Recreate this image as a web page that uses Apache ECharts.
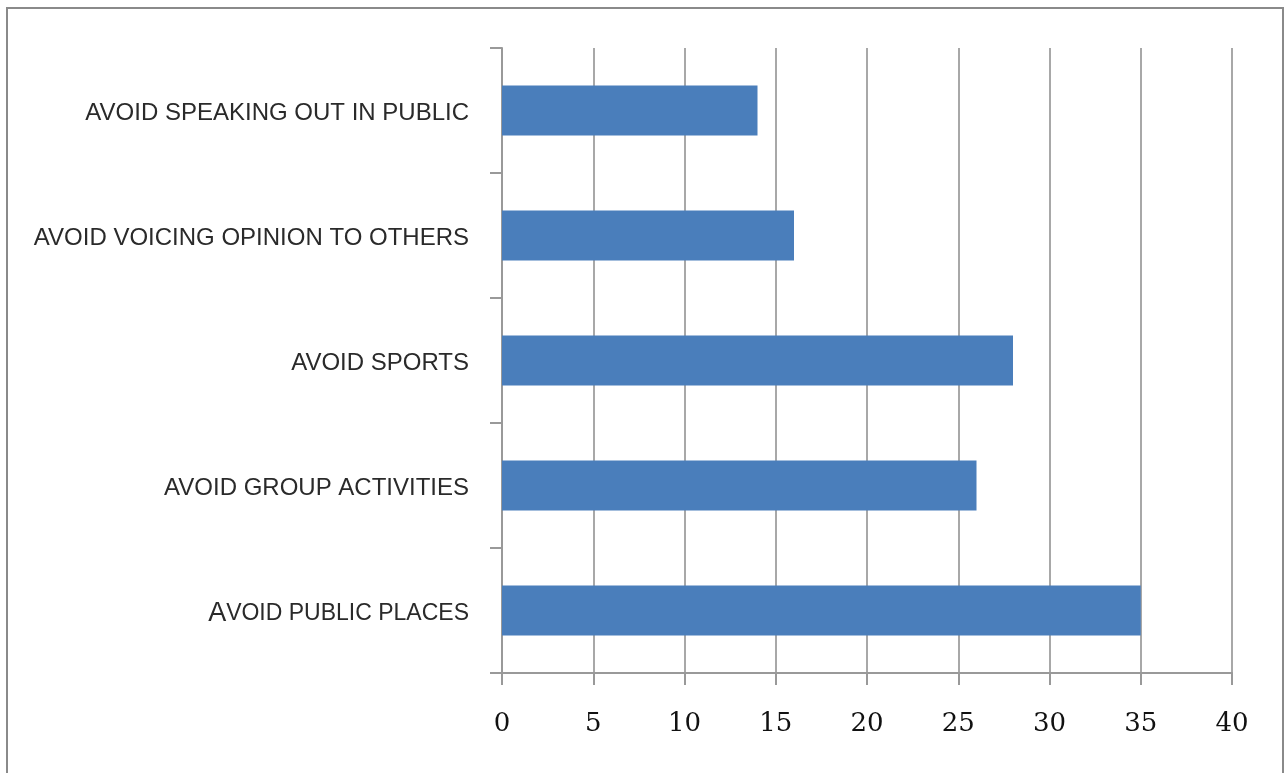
<!DOCTYPE html>
<html>
<head>
<meta charset="utf-8">
<script src="https://cdn.jsdelivr.net/npm/echarts@6/dist/echarts.min.js"></script>
<style>
  html, body { margin: 0; padding: 0; background: #fff; }
  #main { width: 1285px; height: 773px; }
</style>
</head>
<body>
<div id="main"></div>
<script>
// categories bottom -> top
var categories = ['AVOID PUBLIC PLACES', 'AVOID GROUP ACTIVITIES', 'AVOID SPORTS', 'AVOID VOICING OPINION TO OTHERS', 'AVOID SPEAKING OUT IN PUBLIC'];
var values = [35, 26, 28, 16, 14];
var xTicks = [0, 5, 10, 15, 20, 25, 30, 35, 40];

var chart = echarts.init(document.getElementById('main'));
var option = {
    backgroundColor: '#fff',
    animation: false,
    graphic: [
        {
            type: 'rect',
            shape: { x: 7, y: 8, width: 1276, height: 770 },
            style: { fill: 'none', stroke: '#8a8a8a', lineWidth: 2 },
            silent: true
        }
    ],
    grid: {
        left: 502,
        right: 53,
        top: 48,
        bottom: 100
    },
    xAxis: {
        type: 'value',
        min: xTicks[0],
        max: xTicks[xTicks.length - 1],
        interval: 5,
        axisLine: { show: true, lineStyle: { color: '#999', width: 2 } },
        axisTick: { show: true, length: 12, lineStyle: { color: '#999', width: 2 } },
        splitLine: { show: true, lineStyle: { color: '#a8a8a8', width: 2 } },
        axisLabel: {
            margin: 38,
            color: '#111',
            fontFamily: 'DejaVu Serif',
            fontSize: 26
        }
    },
    yAxis: {
        type: 'category',
        data: categories,
        axisLine: { show: true, lineStyle: { color: '#999', width: 2 } },
        axisTick: { show: true, length: 12, lineStyle: { color: '#999', width: 2 } },
        axisLabel: {
            margin: 33,
            color: '#2a2a2a',
            fontFamily: 'Liberation Sans',
            fontSize: 24,
            lineHeight: 28,
            padding: [6, 0, 0, 0],
            formatter: function (v) {
                if (v === 'AVOID PUBLIC PLACES') {
                    return '{big|A}{small|VOID PUBLIC PLACES}';
                }
                return v;
            },
            rich: {
                big: { fontFamily: 'Liberation Sans', fontSize: 27, color: '#2a2a2a', lineHeight: 30 },
                small: { fontFamily: 'Liberation Sans', fontSize: 23, color: '#2a2a2a', lineHeight: 30 }
            }
        }
    },
    series: [
        {
            type: 'bar',
            data: values,
            barWidth: 50,
            itemStyle: { color: '#4a7ebb' }
        }
    ]
};
chart.setOption(option);
</script>
</body>
</html>
